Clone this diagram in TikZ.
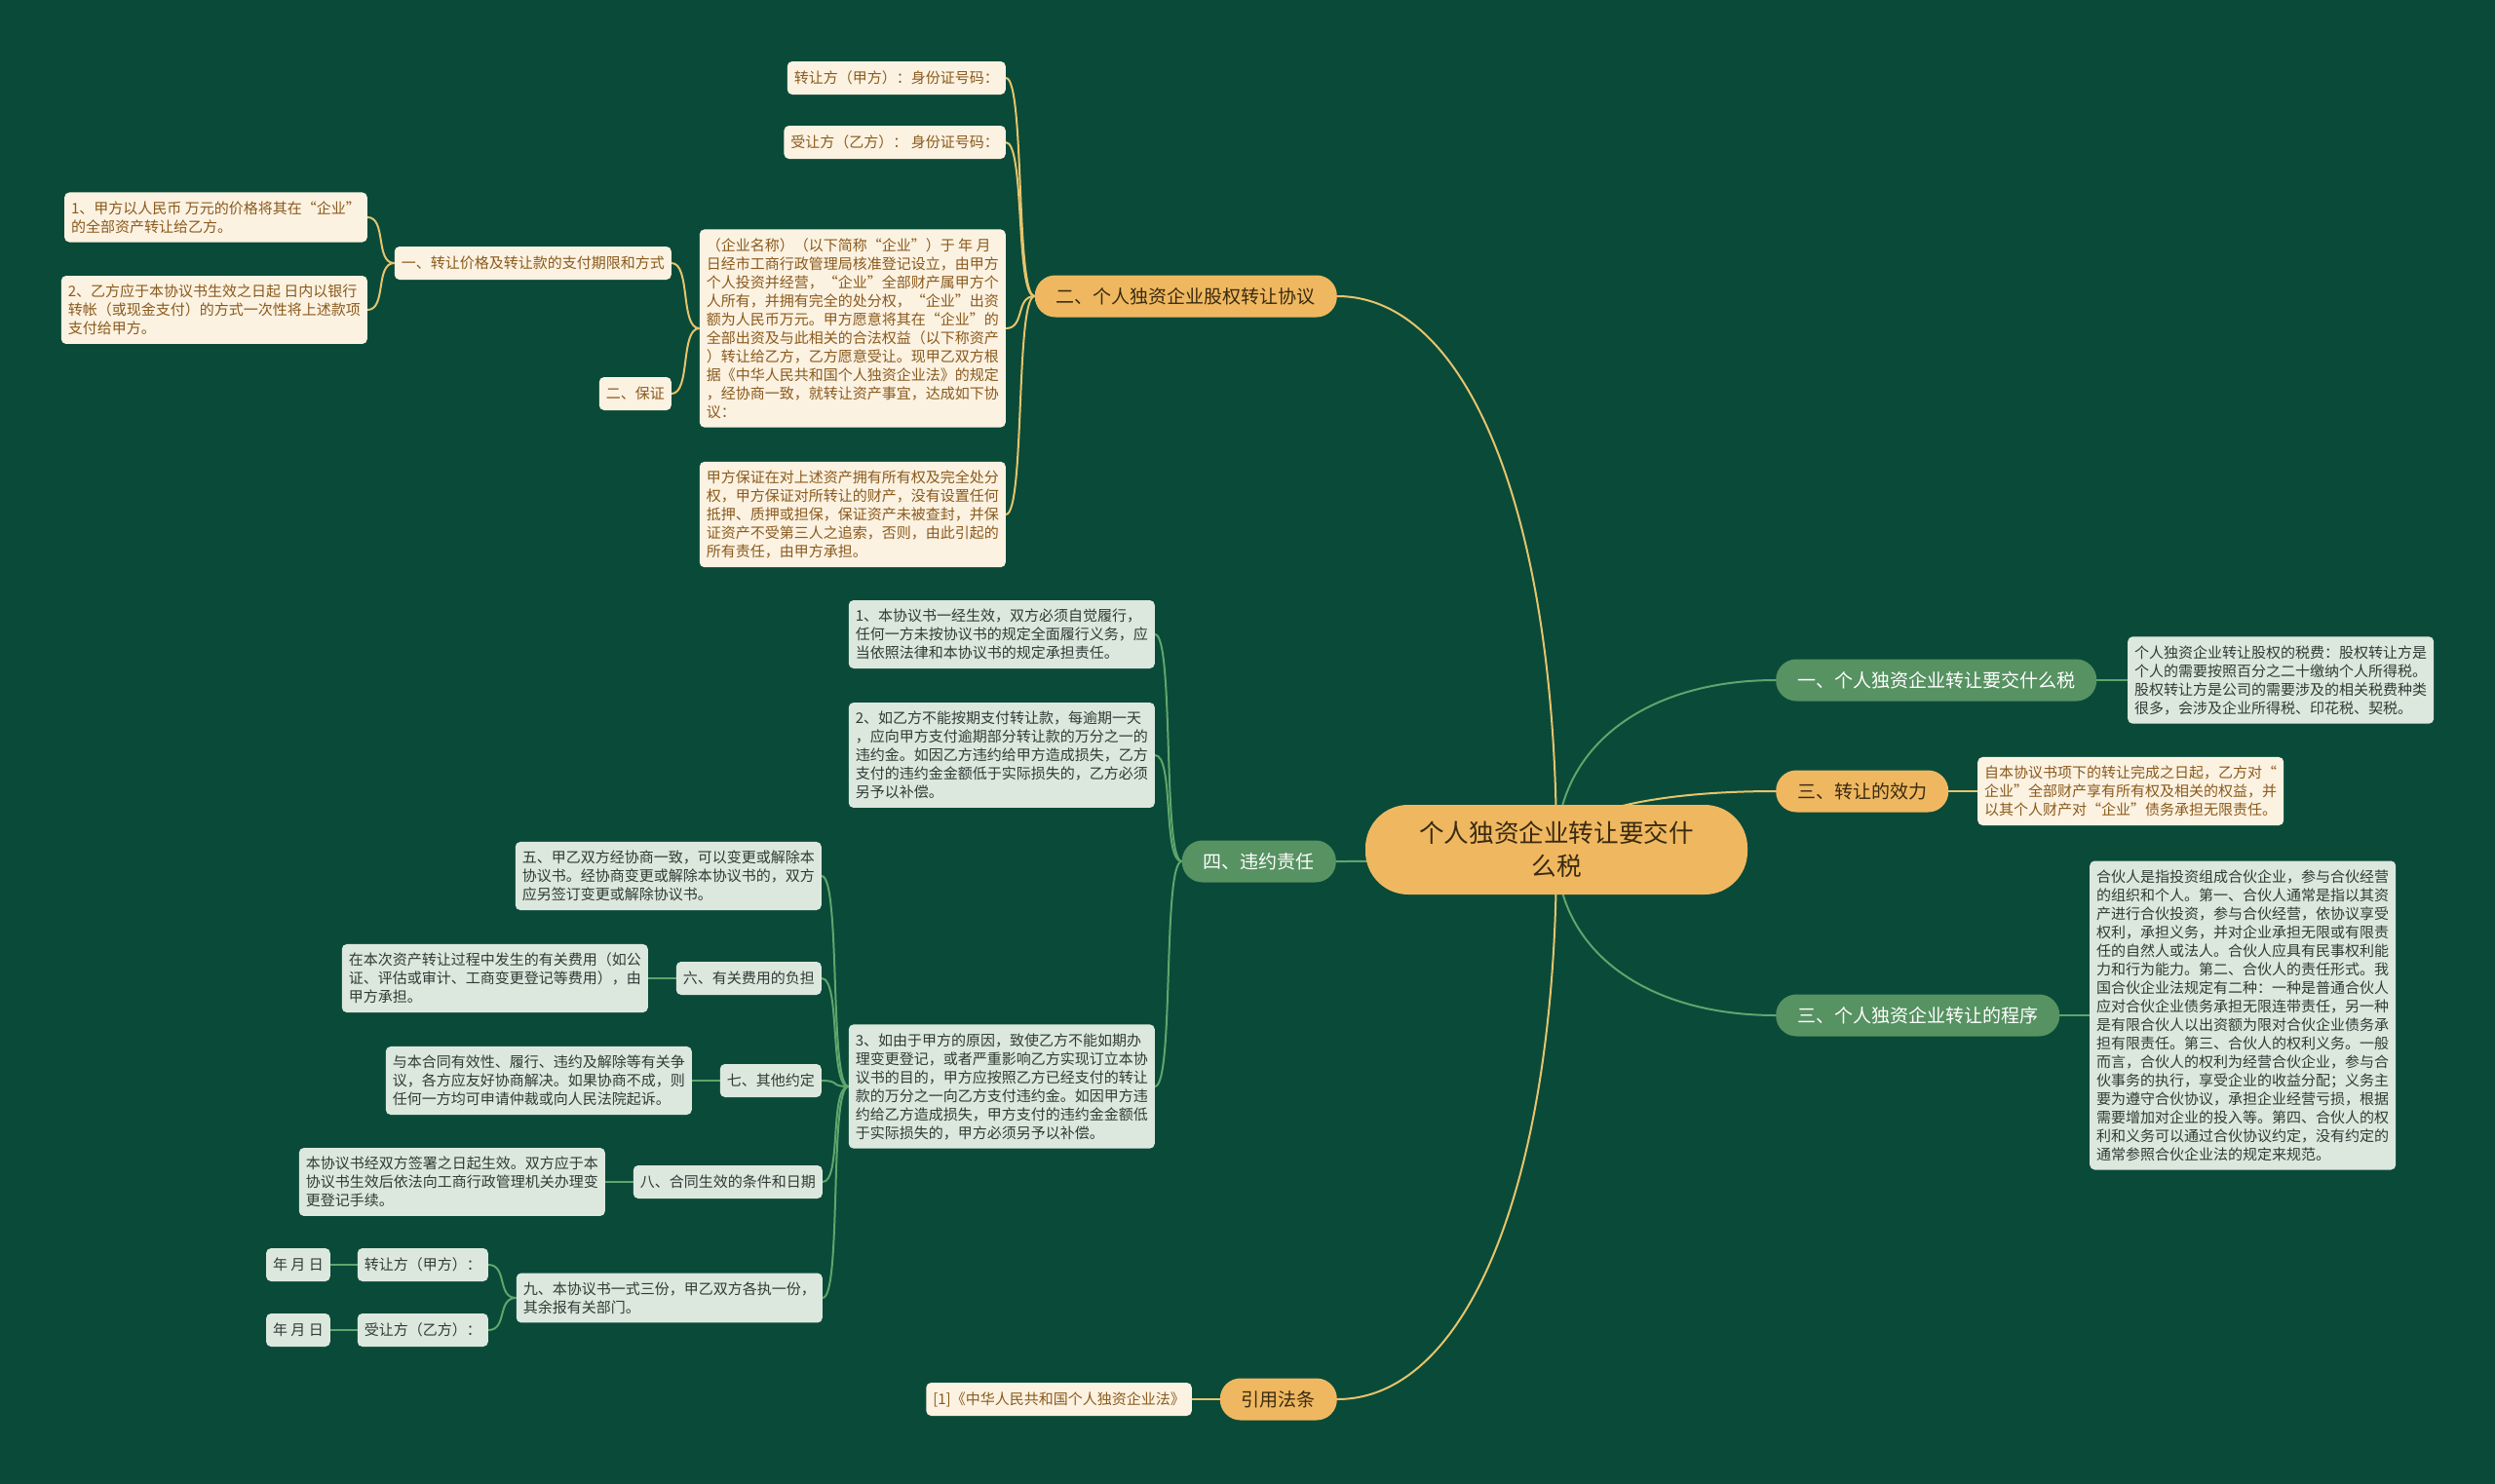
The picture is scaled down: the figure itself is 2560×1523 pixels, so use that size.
\documentclass[tikz,border=0pt]{standalone}
\usepackage{fontspec}
\setmainfont{Noto Sans CJK SC}
\usetikzlibrary{calc}
\definecolor{bgc}{HTML}{0A4A39}
\definecolor{orfill}{HTML}{EFB860}
\definecolor{ortext}{HTML}{3A2A10}
\definecolor{grfill}{HTML}{579262}
\definecolor{crfill}{HTML}{FCF2E2}
\definecolor{crtext}{HTML}{8A5A1C}
\definecolor{lgfill}{HTML}{DCE8DE}
\definecolor{lgtext}{HTML}{2F3B35}
\definecolor{orline}{HTML}{E6C46C}
\definecolor{grline}{HTML}{5FA56C}
\pgfdeclarelayer{bg}
\pgfdeclarelayer{edges}
\pgfsetlayers{bg,edges,main}
\tikzset{
  hub/.style={fill=orfill, text=ortext, minimum width=392pt, minimum height=92pt,
    rounded corners=44pt, align=center, inner sep=0pt, font=\fontsize{25.6}{34}\selectfont},
  mainbase/.style={rounded corners=21pt, inner xsep=22pt, inner ysep=0pt,
    minimum height=43pt, font=\fontsize{19}{23}\selectfont},
  mainO/.style={mainbase, fill=orfill, text=ortext},
  mainG/.style={mainbase, fill=grfill, text=white},
  leafbase/.style={rounded corners=5pt, inner xsep=7pt, inner ysep=9pt, minimum height=34pt,
    align=left, font=\fontsize{15}{19}\selectfont},
  leafC/.style={leafbase, fill=crfill, text=crtext},
  leafG/.style={leafbase, fill=lgfill, text=lgtext},
  edgeO/.style={draw=orline, line width=2pt},
  edgeG/.style={draw=grline, line width=2pt},
}
\newcommand\hubedge[3]{\draw[#1] (c.center) .. controls ($(c.center)!0.6!(c.center|-#2.#3)$) and ($(#2.#3)!0.6!(c.center|-#2.#3)$) .. (#2.#3);}
\newcommand\edgeL[3]{\draw[#1] (#2.west) .. controls +(-20,0) and +(20,0) .. (#3.east);}
\newcommand\edgeR[3]{\draw[#1] (#2.east) .. controls +(15,0) and +(-15,0) .. (#3.west);}
\begin{document}
\begin{tikzpicture}[x=1pt,y=-1pt]
\begin{pgfonlayer}{bg}
\fill[bgc] (0,0) rectangle (2560,1523);
\end{pgfonlayer}
\useasboundingbox (0,0) rectangle (2560,1523);

% hub
\node[hub] (c) at (1597,872) {个人独资企业转让要交什\\么税};

% main branches
\node[mainO, anchor=east] (b2) at (1372,304) {二、个人独资企业股权转让协议};
\node[mainG, anchor=east] (b4) at (1371,884) {四、违约责任};
\node[mainO, anchor=east] (bref) at (1372,1436) {引用法条};
\node[mainG, anchor=west] (b1) at (1822,698) {一、个人独资企业转让要交什么税};
\node[mainO, anchor=west] (b3) at (1822,812) {三、转让的效力};
\node[mainG, anchor=west] (b3p) at (1822,1042) {三、个人独资企业转让的程序};

% branch 二
\node[leafC, anchor=east] (zr) at (1032,80) {转让方（甲方）：身份证号码：};
\node[leafC, anchor=east] (sr) at (1032,146) {受让方（乙方）： 身份证号码：};
\node[leafC, anchor=east] (big) at (1032,337) {（企业名称）（以下简称“企业”）于 年 月\\日经市工商行政管理局核准登记设立，由甲方\\个人投资并经营，“企业”全部财产属甲方个\\人所有，并拥有完全的处分权，“企业”出资\\额为人民币万元。甲方愿意将其在“企业”的\\全部出资及与此相关的合法权益（以下称资产\\）转让给乙方，乙方愿意受让。现甲乙双方根\\据《中华人民共和国个人独资企业法》的规定\\，经协商一致，就转让资产事宜，达成如下协\\议：};
\node[leafC, anchor=east] (bz) at (1032,528) {甲方保证在对上述资产拥有所有权及完全处分\\权，甲方保证对所转让的财产，没有设置任何\\抵押、质押或担保，保证资产未被查封，并保\\证资产不受第三人之追索，否则，由此引起的\\所有责任，由甲方承担。};
\node[leafC, anchor=east] (t1) at (689,270) {一、转让价格及转让款的支付期限和方式};
\node[leafC, anchor=east] (t2) at (689,404) {二、保证};
\node[leafC, anchor=east] (p1) at (377,223) {1、甲方以人民币 万元的价格将其在“企业”\\的全部资产转让给乙方。};
\node[leafC, anchor=east] (p2) at (377,318) {2、乙方应于本协议书生效之日起 日内以银行\\转帐（或现金支付）的方式一次性将上述款项\\支付给甲方。};

% branch 四
\node[leafG, anchor=east] (w1) at (1185,651) {1、本协议书一经生效，双方必须自觉履行，\\任何一方未按协议书的规定全面履行义务，应\\当依照法律和本协议书的规定承担责任。};
\node[leafG, anchor=east] (w2) at (1185,775) {2、如乙方不能按期支付转让款，每逾期一天\\，应向甲方支付逾期部分转让款的万分之一的\\违约金。如因乙方违约给甲方造成损失，乙方\\支付的违约金金额低于实际损失的，乙方必须\\另予以补偿。};
\node[leafG, anchor=east] (w3) at (1185,1115) {3、如由于甲方的原因，致使乙方不能如期办\\理变更登记，或者严重影响乙方实现订立本协\\议书的目的，甲方应按照乙方已经支付的转让\\款的万分之一向乙方支付违约金。如因甲方违\\约给乙方造成损失，甲方支付的违约金金额低\\于实际损失的，甲方必须另予以补偿。};
\node[leafG, anchor=east] (w5) at (843,899) {五、甲乙双方经协商一致，可以变更或解除本\\协议书。经协商变更或解除本协议书的，双方\\应另签订变更或解除协议书。};
\node[leafG, anchor=east] (w6) at (843,1004) {六、有关费用的负担};
\node[leafG, anchor=east] (w6a) at (665,1004) {在本次资产转让过程中发生的有关费用（如公\\证、评估或审计、工商变更登记等费用），由\\甲方承担。};
\node[leafG, anchor=east] (w7) at (843,1109) {七、其他约定};
\node[leafG, anchor=east] (w7a) at (710,1109) {与本合同有效性、履行、违约及解除等有关争\\议，各方应友好协商解决。如果协商不成，则\\任何一方均可申请仲裁或向人民法院起诉。};
\node[leafG, anchor=east] (w8) at (844,1213) {八、合同生效的条件和日期};
\node[leafG, anchor=east] (w8a) at (621,1213) {本协议书经双方签署之日起生效。双方应于本\\协议书生效后依法向工商行政管理机关办理变\\更登记手续。};
\node[leafG, anchor=east] (w9) at (844,1332) {九、本协议书一式三份，甲乙双方各执一份，\\其余报有关部门。};
\node[leafG, anchor=east] (w9a) at (501,1298) {转让方（甲方）：};
\node[leafG, anchor=east] (w9b) at (501,1365) {受让方（乙方）：};
\node[leafG, anchor=east] (w9a1) at (339,1298) {年 月 日};
\node[leafG, anchor=east] (w9b1) at (339,1365) {年 月 日};

% reference
\node[leafC, anchor=east] (ref1) at (1223,1436) {[1]《中华人民共和国个人独资企业法》};

% right side
\node[leafG, anchor=west] (r1) at (2183,698) {个人独资企业转让股权的税费：股权转让方是\\个人的需要按照百分之二十缴纳个人所得税。\\股权转让方是公司的需要涉及的相关税费种类\\很多，会涉及企业所得税、印花税、契税。};
\node[leafC, anchor=west] (r3) at (2029,812) {自本协议书项下的转让完成之日起，乙方对“\\企业”全部财产享有所有权及相关的权益，并\\以其个人财产对“企业”债务承担无限责任。};
\node[leafG, anchor=west] (rp) at (2144,1042) {合伙人是指投资组成合伙企业，参与合伙经营\\的组织和个人。第一、合伙人通常是指以其资\\产进行合伙投资，参与合伙经营，依协议享受\\权利，承担义务，并对企业承担无限或有限责\\任的自然人或法人。合伙人应具有民事权利能\\力和行为能力。第二、合伙人的责任形式。我\\国合伙企业法规定有二种：一种是普通合伙人\\应对合伙企业债务承担无限连带责任，另一种\\是有限合伙人以出资额为限对合伙企业债务承\\担有限责任。第三、合伙人的权利义务。一般\\而言，合伙人的权利为经营合伙企业，参与合\\伙事务的执行，享受企业的收益分配；义务主\\要为遵守合伙协议，承担企业经营亏损，根据\\需要增加对企业的投入等。第四、合伙人的权\\利和义务可以通过合伙协议约定，没有约定的\\通常参照合伙企业法的规定来规范。};

\begin{pgfonlayer}{edges}
\hubedge{edgeO}{b2}{east}
\hubedge{edgeG}{b4}{east}
\hubedge{edgeO}{bref}{east}
\hubedge{edgeG}{b1}{west}
\hubedge{edgeO}{b3}{west}
\hubedge{edgeG}{b3p}{west}
\edgeL{edgeO}{b2}{zr}
\edgeL{edgeO}{b2}{sr}
\edgeL{edgeO}{b2}{big}
\edgeL{edgeO}{b2}{bz}
\edgeL{edgeO}{big}{t1}
\edgeL{edgeO}{big}{t2}
\edgeL{edgeO}{t1}{p1}
\edgeL{edgeO}{t1}{p2}
\edgeL{edgeO}{bref}{ref1}
\edgeL{edgeG}{b4}{w1}
\edgeL{edgeG}{b4}{w2}
\edgeL{edgeG}{b4}{w3}
\edgeL{edgeG}{w3}{w5}
\edgeL{edgeG}{w3}{w6}
\edgeL{edgeG}{w3}{w7}
\edgeL{edgeG}{w3}{w8}
\edgeL{edgeG}{w3}{w9}
\edgeL{edgeG}{w6}{w6a}
\edgeL{edgeG}{w7}{w7a}
\edgeL{edgeG}{w8}{w8a}
\edgeL{edgeG}{w9}{w9a}
\edgeL{edgeG}{w9}{w9b}
\edgeL{edgeG}{w9a}{w9a1}
\edgeL{edgeG}{w9b}{w9b1}
\edgeR{edgeG}{b1}{r1}
\edgeR{edgeO}{b3}{r3}
\edgeR{edgeG}{b3p}{rp}
\end{pgfonlayer}
\end{tikzpicture}
\end{document}
